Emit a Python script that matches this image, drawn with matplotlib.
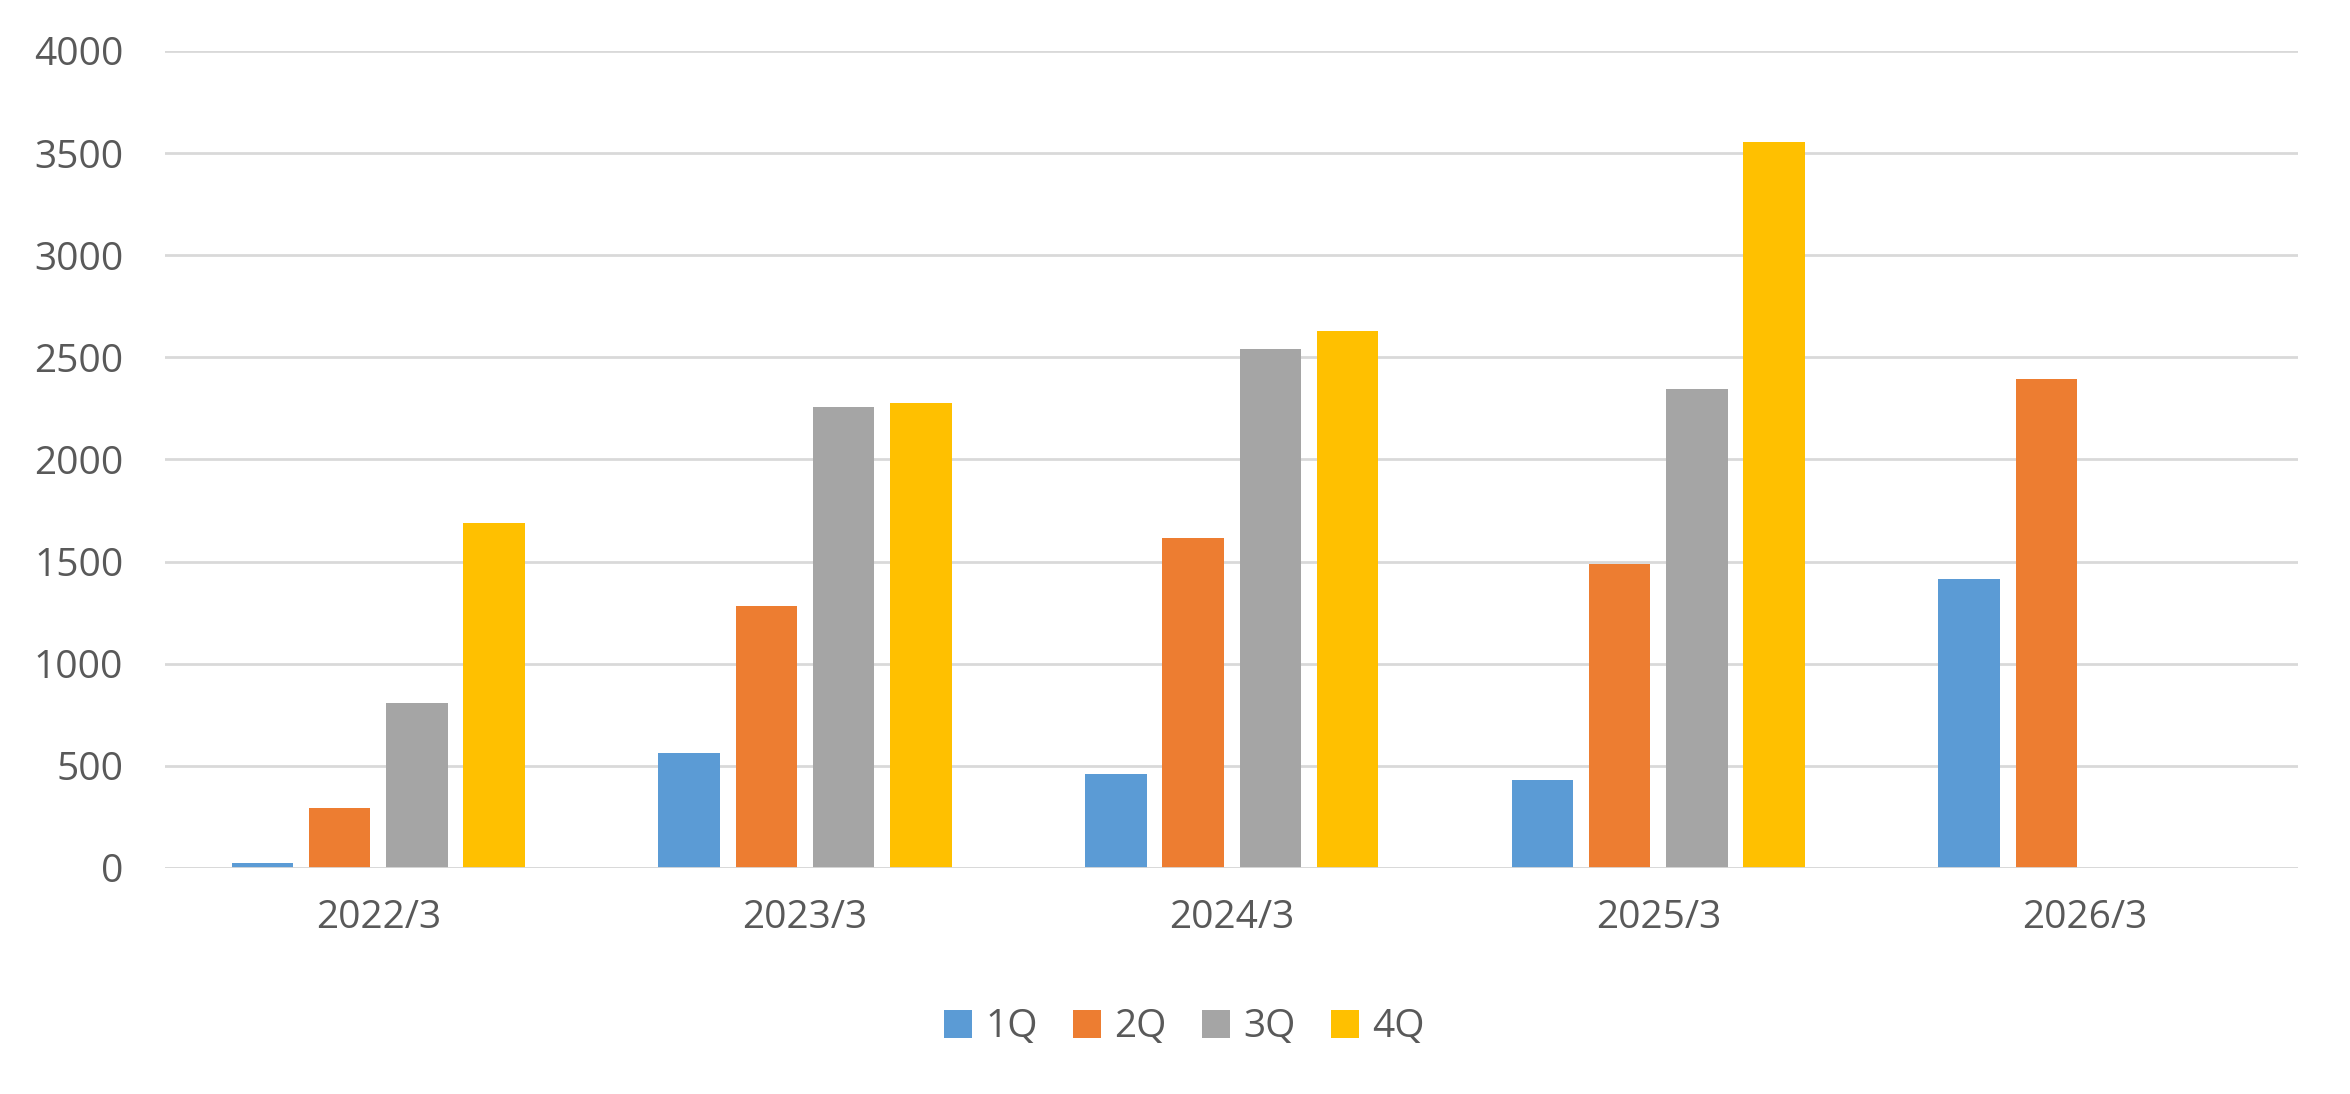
import numpy as np
import matplotlib
matplotlib.use("Agg")
import matplotlib.pyplot as plt

# --- Data ---
CATEGORIES = ["2022/3", "2023/3", "2024/3", "2025/3", "2026/3"]
SERIES_NAMES = ["1Q", "2Q", "3Q", "4Q"]
Q1 = [22, 565, 458, 433, 1413]
Q2 = [295, 1284, 1618, 1489, 2396]
Q3 = [809, 2258, 2542, 2343, np.nan]
Q4 = [1691, 2278, 2629, 3556, np.nan]
Y_TICKS = [0, 500, 1000, 1500, 2000, 2500, 3000, 3500, 4000]

# --- Style ---
COLORS = ["#5B9BD5", "#ED7D31", "#A5A5A5", "#FFC000"]
TEXT_COLOR = "#595959"
GRID_COLOR = "#D9D9D9"
FONT = ["Open Sans", "DejaVu Sans"]
BAR_STEP = 0.181
BAR_WIDTH = 0.144

plt.rcParams["font.family"] = FONT

fig = plt.figure(figsize=(23.5, 10.94), dpi=100)
ax = fig.add_axes([0.0702, 0.2066, 0.9078, 0.7468])

x = np.arange(len(CATEGORIES))
for i, (name, vals, color) in enumerate(zip(SERIES_NAMES, [Q1, Q2, Q3, Q4], COLORS)):
    offset = (i - 1.5) * BAR_STEP
    ax.bar(x + offset, vals, width=BAR_WIDTH, color=color, label=name, zorder=3)

ax.set_xlim(-0.5, len(CATEGORIES) - 0.5)
ax.set_ylim(0, 4000)
ax.set_yticks(Y_TICKS)
ax.set_xticks(x)
ax.set_xticklabels(CATEGORIES)

ax.grid(axis="y", color=GRID_COLOR, linewidth=2.0, zorder=0)
ax.set_axisbelow(True)
for spine in ax.spines.values():
    spine.set_visible(False)
ax.axhline(0, color=GRID_COLOR, linewidth=2.0, zorder=4)

ax.tick_params(axis="both", length=0, labelsize=28, colors=TEXT_COLOR)
ax.tick_params(axis="y", pad=30)
ax.tick_params(axis="x", pad=22)

leg = fig.legend(
    loc="center",
    bbox_to_anchor=(0.504, 0.061),
    ncol=4,
    frameon=False,
    fontsize=28,
    handlelength=0.72,
    handleheight=0.72,
    handletextpad=0.35,
    columnspacing=0.9,
)
for text in leg.get_texts():
    text.set_color(TEXT_COLOR)

fig.savefig("out.png", dpi=100, facecolor="white")
